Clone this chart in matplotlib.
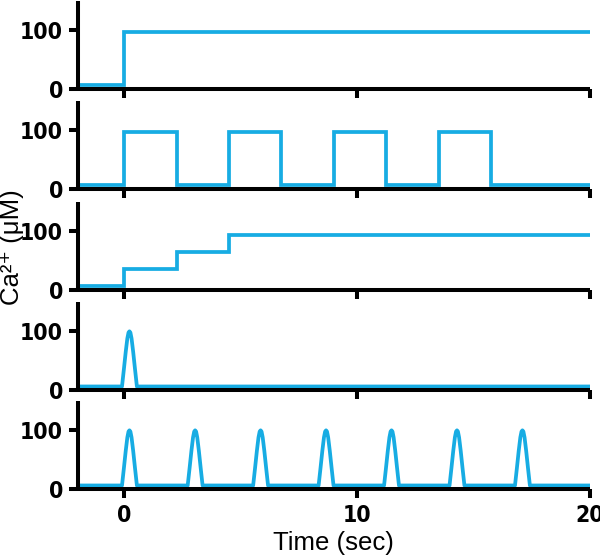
import numpy as np
import matplotlib.pyplot as plt
from matplotlib import font_manager

# Trace values (time in sec, Ca2+ in uM)
baseline = 6

# panel 1: single step
step_t = [-2, 0, 20]
step_ca = [baseline, 97, 97]

# panel 2: square pulses
square_t = [-2, 0, 2.25, 4.5, 6.75, 9, 11.25, 13.5, 15.75, 20]
square_ca = [baseline, 97, baseline, 97, baseline, 97, baseline, 97, baseline, baseline]

# panel 3: staircase
stair_t = [-2, 0, 2.25, 4.5, 20]
stair_ca = [baseline, 35, 65, 94, 94]

# panels 4-5: brief transients (shape relative to peak time)
spike_dt = [-0.32, -0.24, -0.16, -0.09, -0.04, 0, 0.04, 0.09, 0.16, 0.24, 0.32]
spike_ca = [baseline, 35, 65, 88, 98, 100, 98, 88, 65, 35, baseline]
single_peaks = [0.23]
train_peaks = [0.23, 3.05, 5.86, 8.67, 11.48, 14.29, 17.1]

x_ticks = [0, 10, 20]
y_ticks = [0, 100]

blue = '#17ACE3'

# condensed bold face for the tick numbers, if one is installed
names = {f.name for f in font_manager.fontManager.ttflist}
if 'Liberation Sans Narrow' in names:
    tick_font = dict(family=['Liberation Sans Narrow', 'DejaVu Sans'], weight='bold', size=17)
else:
    tick_font = dict(family=['DejaVu Sans'], weight='bold', size=16.5, stretch='condensed')
label_font = dict(family=['Liberation Sans', 'DejaVu Sans'], size=18.5)


def spike_trace(peaks):
    t = [-2]
    ca = [baseline]
    for p in peaks:
        t += [p + d for d in spike_dt]
        ca += spike_ca
    t.append(20)
    ca.append(baseline)
    return t, ca


fig = plt.figure(figsize=(6, 5.58), dpi=100)
W, H = 600, 558
left_px, right_px = 77.5, 590
bottoms_px = [89, 189, 290, 390, 489]
height_px = 88

axes = []
for b in bottoms_px:
    ax = fig.add_axes([left_px / W, (H - b) / H, (right_px - left_px) / W, height_px / H])
    axes.append(ax)

axes[0].plot(step_t, step_ca, drawstyle='steps-post', color=blue, lw=2.7, solid_joinstyle='miter')
axes[1].plot(square_t, square_ca, drawstyle='steps-post', color=blue, lw=2.7, solid_joinstyle='miter')
axes[2].plot(stair_t, stair_ca, drawstyle='steps-post', color=blue, lw=2.7, solid_joinstyle='miter')
t4, ca4 = spike_trace(single_peaks)
axes[3].plot(t4, ca4, color=blue, lw=2.7)
t5, ca5 = spike_trace(train_peaks)
axes[4].plot(t5, ca5, color=blue, lw=2.7)

for i, ax in enumerate(axes):
    ax.set_xlim(-2, 20)
    ax.set_ylim(0, 150)
    for s in ['top', 'right']:
        ax.spines[s].set_visible(False)
    for s in ['left', 'bottom']:
        ax.spines[s].set_linewidth(2.9)
        ax.spines[s].set_capstyle('butt')
    ax.set_xticks(x_ticks)
    ax.set_yticks(y_ticks)
    ax.tick_params(axis='both', width=2.9, length=6.5, color='black')
    ax.tick_params(axis='y', pad=4)
    ax.tick_params(axis='x', pad=4)
    ax.set_yticklabels([str(v) for v in y_ticks], fontdict=tick_font)
    if i < len(axes) - 1:
        ax.set_xticklabels([])
    else:
        ax.set_xticklabels([str(v) for v in x_ticks], fontdict=tick_font)

axes[4].set_xlabel('Time (sec)', fontdict=label_font, labelpad=3)
fig.text(12 / W, 1 - 247 / H, 'Ca\u00b2\u207a (\u03bcM)', rotation=90, ha='center', va='center',
         **label_font)

fig.savefig('out.png', dpi=100)
